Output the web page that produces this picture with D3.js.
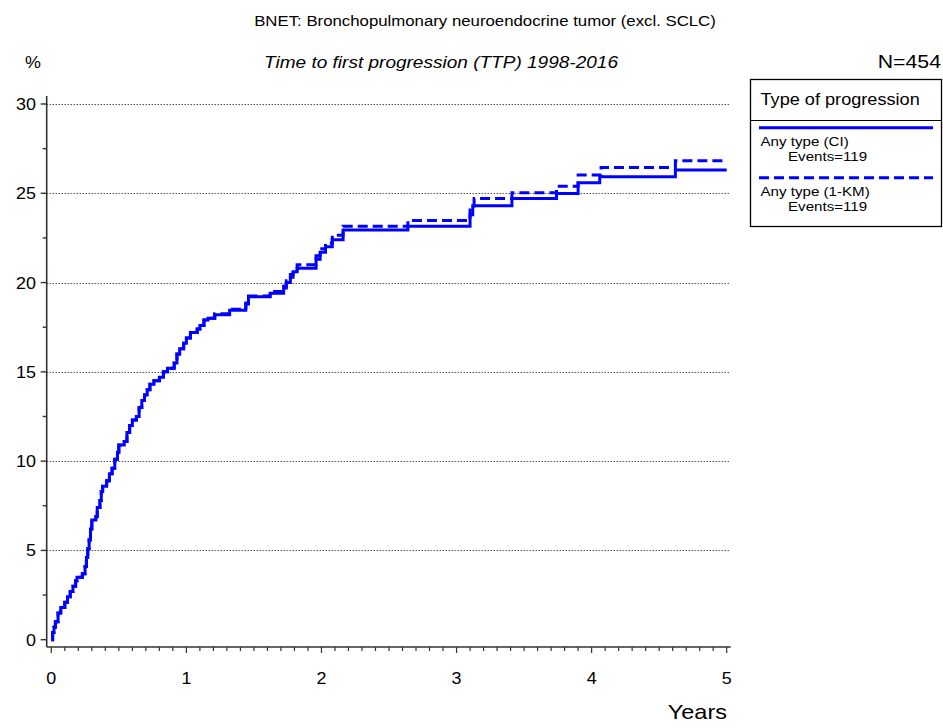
<!DOCTYPE html>
<html>
<head>
<meta charset="utf-8">
<script src="https://cdn.jsdelivr.net/npm/d3@7/dist/d3.min.js"></script>
<style>
  html, body { margin: 0; padding: 0; background: #fff; }
  svg { display: block; }
  text { font-family: "Liberation Sans", Arial, sans-serif; fill: #000; }
</style>
</head>
<body>
<svg id="chart" width="943" height="728"></svg>
<script>
// ---- Data ----
const title = "BNET: Bronchopulmonary neuroendocrine tumor (excl. SCLC)";
const subtitle = "Time to first progression (TTP) 1998-2016";
const nLabel = "N=454";
const yLabel = "%";
const xLabel = "Years";
const legendTitle = "Type of progression";
const seriesNames = ["Any type (CI)", "Any type (1-KM)"];
const seriesEvents = ["Events=119", "Events=119"];
const xTicks = [0, 1, 2, 3, 4, 5];
const yTicks = [0, 5, 10, 15, 20, 25, 30];

// Cumulative incidence (solid) : [years, %]
const ciSteps = [
  [0,0],[0.01,0.4],[0.02,0.7],[0.03,1.0],[0.05,1.5],[0.07,1.8],[0.10,2.1],[0.12,2.4],
  [0.14,2.7],[0.16,3.0],[0.18,3.3],[0.19,3.5],[0.23,3.7],[0.25,4.1],[0.26,4.6],[0.27,5.1],
  [0.28,5.6],[0.29,6.2],[0.30,6.7],[0.33,6.9],[0.34,7.4],[0.36,7.8],[0.37,8.3],[0.38,8.6],
  [0.41,8.9],[0.43,9.3],[0.45,9.6],[0.47,10.1],[0.49,10.5],[0.50,10.9],[0.54,11.1],[0.56,11.6],
  [0.58,12.0],[0.60,12.3],[0.63,12.5],[0.65,13.0],[0.67,13.4],[0.69,13.7],[0.71,14.0],[0.73,14.3],
  [0.76,14.5],[0.80,14.7],[0.83,15.0],[0.86,15.2],[0.91,15.5],[0.93,16.0],[0.95,16.3],[0.98,16.6],
  [1.00,16.9],[1.03,17.2],[1.08,17.4],[1.10,17.6],[1.13,17.9],[1.16,18.0],[1.21,18.2],[1.32,18.45],
  [1.44,18.8],[1.46,19.2],[1.62,19.4],[1.72,19.7],[1.74,20.0],[1.77,20.3],[1.79,20.6],[1.82,20.8],
  [1.96,21.3],[1.99,21.7],[2.03,22.0],[2.08,22.4],[2.16,22.94],[2.64,23.16],[3.10,23.8],[3.12,24.30],
  [3.41,24.71],[3.74,24.99],[3.90,25.59],[4.06,25.93],[4.62,26.30],[5.0,26.30]
];
// 1 - Kaplan-Meier (dashed) : [years, %]
const kmSteps = [
  [0,0],[0.01,0.4],[0.02,0.7],[0.03,1.0],[0.05,1.5],[0.07,1.8],[0.10,2.1],[0.12,2.4],
  [0.14,2.7],[0.16,3.0],[0.18,3.3],[0.19,3.5],[0.23,3.7],[0.25,4.1],[0.26,4.6],[0.27,5.1],
  [0.28,5.6],[0.29,6.2],[0.30,6.7],[0.33,6.9],[0.34,7.4],[0.36,7.8],[0.37,8.3],[0.38,8.6],
  [0.41,8.9],[0.43,9.3],[0.45,9.6],[0.47,10.1],[0.49,10.5],[0.50,10.9],[0.54,11.1],[0.56,11.6],
  [0.58,12.0],[0.60,12.3],[0.63,12.5],[0.65,13.0],[0.67,13.4],[0.69,13.7],[0.71,14.0],[0.73,14.3],
  [0.76,14.5],[0.80,14.7],[0.83,15.0],[0.86,15.2],[0.91,15.5],[0.93,16.0],[0.95,16.3],[0.98,16.6],
  [1.00,16.9],[1.03,17.2],[1.08,17.4],[1.10,17.6],[1.13,17.9],[1.16,18.0],[1.21,18.25],[1.32,18.5],
  [1.44,18.85],[1.46,19.25],[1.62,19.5],[1.72,19.8],[1.74,20.1],[1.77,20.45],[1.79,20.75],[1.82,21.0],
  [1.96,21.5],[1.99,21.9],[2.03,22.2],[2.08,22.65],[2.16,23.16],[2.64,23.48],[3.10,24.2],[3.13,24.71],
  [3.41,25.03],[3.74,25.40],[3.90,26.02],[4.07,26.45],[4.62,26.82],[5.0,26.82]
];

// ---- Layout ----
const svg = d3.select("#chart");
const x = d3.scaleLinear().domain([0, 5]).range([51.3, 726.7]);
const y = d3.scaleLinear().domain([0, 30]).range([639.7, 104]);
const axisX = 46.7, axisY = 647, axisTop = 96, axisRight = 730.7;
const blue = "#0000ff";
const SX = 1.12; // horizontal glyph stretch seen in the reference

function txt(parent, px, py, s, size, anchor, italic) {
  return parent.append("text")
    .attr("transform", `translate(${px},${py}) scale(${SX},1)`)
    .attr("text-anchor", anchor || "start")
    .attr("font-size", size)
    .attr("font-style", italic ? "italic" : "normal")
    .text(s);
}

// Titles
txt(svg, 485, 26, title, 15, "middle");
txt(svg, 441, 68, subtitle, 17, "middle", true);
txt(svg, 25, 68, yLabel, 16, "start");
txt(svg, 941, 68, nLabel, 19, "end");

// Gridlines (dotted)
svg.append("g").selectAll("line").data(yTicks.filter(d => d > 0)).join("line")
  .attr("x1", axisX).attr("x2", axisRight)
  .attr("y1", d => Math.round(y(d)) + 0.5).attr("y2", d => Math.round(y(d)) + 0.5)
  .attr("stroke", "#000").attr("stroke-width", 1).attr("stroke-dasharray", "1,2");

// Y axis
const gy = svg.append("g");
gy.append("line").attr("x1", axisX).attr("x2", axisX).attr("y1", axisTop).attr("y2", axisY)
  .attr("stroke", "#333").attr("stroke-width", 1.6);
const yMinor = d3.range(0, 30.01, 2.5);
gy.selectAll("line.tk").data(yMinor).join("line").attr("class", "tk")
  .attr("x1", d => (d % 5 === 0) ? axisX - 6 : axisX - 4).attr("x2", axisX)
  .attr("y1", d => y(d)).attr("y2", d => y(d))
  .attr("stroke", "#333").attr("stroke-width", 1.4);
yTicks.forEach(d => txt(gy, 36, y(d) + 6, d, 16, "end"));

// X axis
const gx = svg.append("g");
gx.append("line").attr("x1", axisX).attr("x2", axisRight).attr("y1", axisY).attr("y2", axisY)
  .attr("stroke", "#333").attr("stroke-width", 1.6);
const xMinor = d3.range(0, 50.5, 1).map(d => d / 10);
gx.selectAll("line.tk").data(xMinor).join("line").attr("class", "tk")
  .attr("x1", d => x(d)).attr("x2", d => x(d))
  .attr("y1", axisY).attr("y2", (d, i) => (i % 10 === 0) ? axisY + 6 : axisY + 4)
  .attr("stroke", "#333").attr("stroke-width", 1.2);
xTicks.forEach(d => txt(gx, x(d), 684, d, 16, "middle"));
txt(svg, 727, 719, xLabel, 21, "end");

// Curves
const line = d3.line().x(d => x(d[0])).y(d => y(d[1])).curve(d3.curveStepAfter);
svg.append("path").datum(kmSteps).attr("d", line).attr("fill", "none")
  .attr("stroke", blue).attr("stroke-width", 3).attr("stroke-dasharray", "10,5");
svg.append("path").datum(ciSteps).attr("d", line).attr("fill", "none")
  .attr("stroke", blue).attr("stroke-width", 3);

// Legend
const lg = svg.append("g");
lg.append("rect").attr("x", 750.5).attr("y", 79.5).attr("width", 191).attr("height", 147)
  .attr("fill", "#fff").attr("stroke", "#000").attr("stroke-width", 1.3);
lg.append("line").attr("x1", 750.5).attr("x2", 941.5).attr("y1", 120.5).attr("y2", 120.5)
  .attr("stroke", "#000").attr("stroke-width", 1);
txt(lg, 760.5, 105, legendTitle, 16.2, "start");
const legendRows = [
  {name: seriesNames[0], ev: seriesEvents[0], dash: null, ly: 127.7},
  {name: seriesNames[1], ev: seriesEvents[1], dash: "10,5", ly: 177.7}
];
legendRows.forEach(r => {
  lg.append("line").attr("x1", 759).attr("x2", 933).attr("y1", r.ly).attr("y2", r.ly)
    .attr("stroke", blue).attr("stroke-width", 3).attr("stroke-dasharray", r.dash);
  txt(lg, 760.5, r.ly + 18.5, r.name, 13.5, "start");
  txt(lg, 788, r.ly + 33, r.ev, 13.5, "start");
});
</script>
</body>
</html>
